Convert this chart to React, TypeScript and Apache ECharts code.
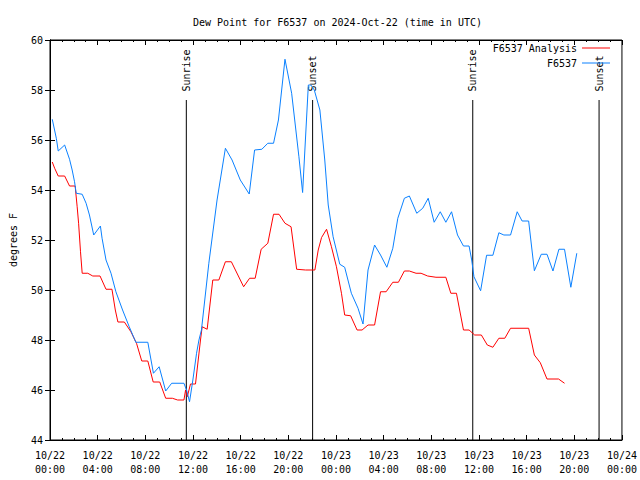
import React, { useEffect, useRef } from "react";
import * as echarts from "echarts";

// Hours since 2024-10-22 00:00 UTC
const analysisHours = [
  0.19, 0.39, 0.69, 1.23, 1.64, 2.11, 2.28, 2.4, 2.56, 2.7, 3.17, 3.59, 4.2, 4.7, 5.2, 5.48, 5.7, 6.24,
  6.79, 7.26, 7.7, 8.21, 8.66, 9.21, 9.71, 10.27, 10.71, 11.24, 11.38, 11.52, 11.79, 12.21, 12.63, 12.77,
  13.19, 13.66, 14.17, 14.72, 15.22, 16.25, 16.75, 17.22, 17.72, 18.28, 18.76, 19.22, 19.72, 20.23, 20.7,
  21.45, 22.23, 22.51, 22.79, 23.21, 23.62, 24.04, 24.46, 24.73, 25.23, 25.77, 26.19, 26.69, 27.24, 27.74,
  28.21, 28.77, 29.24, 29.74, 30.16, 30.72, 31.14, 31.69, 32.39, 33.22, 33.64, 34.11, 34.7, 35.17, 35.64,
  36.2, 36.7, 37.17, 37.67, 38.17, 38.65, 40.17, 40.65, 41.15, 41.71, 42.68, 43.18,
];
const analysisValues = [
  55.12, 54.87, 54.56, 54.56, 54.16, 54.16, 53.33, 52.67, 51.53, 50.67, 50.67, 50.56, 50.56, 50.03, 50.03,
  49.2, 48.72, 48.72, 48.33, 47.87, 47.16, 47.16, 46.32, 46.32, 45.67, 45.67, 45.6, 45.6, 46.0, 45.73, 46.24,
  46.24, 48.0, 48.53, 48.43, 50.4, 50.4, 51.13, 51.13, 50.13, 50.47, 50.47, 51.63, 51.87, 53.03, 53.03, 52.67,
  52.53, 50.83, 50.8, 50.8, 51.6, 52.1, 52.43, 51.73, 50.93, 49.87, 49.0, 48.97, 48.4, 48.4, 48.6, 48.6, 49.93,
  49.93, 50.31, 50.31, 50.76, 50.76, 50.67, 50.67, 50.56, 50.51, 50.51, 49.87, 49.87, 48.4, 48.4, 48.2, 48.2,
  47.8, 47.71, 48.07, 48.07, 48.47, 48.47, 47.4, 47.09, 46.44, 46.44, 46.27,
];

const obsHours = [
  0.19, 0.53, 0.69, 1.23, 1.64, 1.86, 2.06, 2.2, 2.7, 3.03, 3.31, 3.67, 4.23, 4.37, 4.7, 5.12, 5.53, 6.09,
  6.65, 7.2, 8.21, 8.68, 9.16, 9.71, 10.21, 11.24, 11.46, 11.71, 11.99, 12.3, 12.5, 12.71, 13.33, 14.02,
  14.72, 15.28, 15.97, 16.72, 17.17, 17.78, 18.28, 18.76, 19.17, 19.72, 20.28, 20.89, 21.2, 21.68, 21.89,
  22.18, 22.65, 23.06, 23.35, 23.76, 24.32, 24.73, 25.29, 25.85, 26.27, 26.69, 27.24, 27.74, 28.27, 28.77,
  29.19, 29.74, 30.16, 30.78, 31.28, 31.74, 32.24, 32.75, 33.22, 33.7, 34.2, 34.7, 35.17, 35.39, 35.58,
  36.14, 36.64, 37.17, 37.67, 38.09, 38.65, 39.21, 39.62, 40.17, 40.65, 41.23, 41.71, 42.21, 42.71, 43.18,
  43.71, 44.21,
];
const obsValues = [
  56.83, 56.07, 55.56, 55.8, 55.23, 54.8, 54.33, 53.87, 53.83, 53.47, 53.0, 52.2, 52.56, 52.07, 51.2, 50.67,
  49.93, 49.2, 48.53, 47.91, 47.91, 46.67, 46.93, 45.96, 46.27, 46.27, 46.0, 45.53, 46.4, 47.47, 48.0, 48.4,
  51.07, 53.6, 55.67, 55.2, 54.4, 53.84, 55.6, 55.63, 55.87, 55.87, 56.8, 59.23, 57.87, 55.33, 53.9, 58.2,
  58.2, 58.0, 57.2, 55.2, 53.4, 52.13, 51.03, 50.91, 49.87, 49.27, 48.64, 50.8, 51.8, 51.4, 50.91, 51.67,
  52.87, 53.67, 53.76, 53.07, 53.27, 53.67, 52.71, 53.13, 52.71, 53.13, 52.2, 51.76, 51.76, 51.2, 50.53,
  49.97, 51.39, 51.39, 52.29, 52.2, 52.2, 53.13, 52.76, 52.76, 50.77, 51.43, 51.43, 50.76, 51.63, 51.63,
  50.11, 51.47,
];

const eventNames = ["Sunrise", "Sunset", "Sunrise", "Sunset"];
const eventHours = [11.44, 22.04, 35.48, 46.08];
const eventTop = 57.6;

const dayLabels = ["10/22", "10/23", "10/24"];
const titleText = "Dew Point for F6537 on 2024-Oct-22 (time in UTC)";
const seriesNames = ["F6537 Analysis", "F6537"];
const seriesColors = ["#ff0000", "#0a80ff"];

const FONT = "DejaVu Sans Mono";

export default function App() {
  const ref = useRef<HTMLDivElement>(null);
  useEffect(() => {
    if (!ref.current) return;
    const chart = echarts.init(ref.current, null, { renderer: "svg" });
    const pad = (n: number) => (n < 10 ? "0" + n : "" + n);
    const xFmt = (v: number) => {
      const d = Math.floor(v / 24);
      const h = Math.round(v - d * 24);
      return `${dayLabels[d]}\n${pad(h)}:00`;
    };
    const txt = { fontFamily: FONT, fontSize: 10, color: "#000" };
    const eventSeries = eventHours.map((h, i) => ({
      type: "line",
      name: "ev" + i,
      silent: true,
      symbol: "circle",
      symbolSize: 1,
      showSymbol: true,
      itemStyle: { color: "rgba(0,0,0,0)", borderWidth: 0 },
      lineStyle: { color: "#000", width: 1 },
      data: [
        { value: [h, 44], label: { show: false } },
        {
          value: [h, eventTop],
          label: {
            show: true,
            formatter: eventNames[i],
            position: "top",
            rotate: 90,
            align: "left",
            verticalAlign: "middle",
            distance: 8,
            ...txt,
          },
        },
      ],
      z: 1,
    }));
    chart.setOption({
      animation: false,
      backgroundColor: "#fff",
      title: {
        text: titleText,
        left: 188,
        top: 12,
        textStyle: { ...txt, fontWeight: "normal" },
      },
      legend: {
        data: seriesNames.map((n) => ({ name: n, icon: "rect" })),
        orient: "vertical",
        right: 25,
        top: 37,
        align: "right",
        itemWidth: 28,
        itemHeight: 1,
        itemGap: 3,
        textStyle: { ...txt, lineHeight: 12 },
      },
      grid: {
        left: 46,
        right: 18,
        top: 40,
        bottom: 40,
        show: true,
        borderColor: "#000",
        borderWidth: 1,
        backgroundColor: "transparent",
      },
      xAxis: [
        {
          type: "value",
          min: 0,
          max: 48,
          interval: 4,
          axisLine: { show: true, lineStyle: { color: "#000", width: 1 } },
          axisTick: { show: true, inside: true, length: 5, lineStyle: { color: "#000" } },
          minorTick: { show: true, splitNumber: 4, length: 2, lineStyle: { color: "#000" } },
          splitLine: { show: false },
          axisLabel: { ...txt, margin: 8, lineHeight: 14, formatter: xFmt },
        },
        {
          type: "value",
          position: "top",
          min: 0,
          max: 48,
          interval: 4,
          axisLine: { show: true, lineStyle: { color: "#000", width: 1 } },
          axisTick: { show: true, inside: true, length: 5, lineStyle: { color: "#000" } },
          minorTick: { show: true, splitNumber: 4, length: 2, lineStyle: { color: "#000" } },
          splitLine: { show: false },
          axisLabel: { show: false },
        },
      ],
      yAxis: [
        {
          type: "value",
          min: 44,
          max: 60,
          interval: 2,
          name: "degrees F",
          nameLocation: "middle",
          nameGap: 32,
          nameRotate: 90,
          nameTextStyle: txt,
          axisLine: { show: true, lineStyle: { color: "#000", width: 1 } },
          axisTick: { show: true, inside: true, length: 5, lineStyle: { color: "#000" } },
          splitLine: { show: false },
          axisLabel: { ...txt, margin: 7 },
        },
        {
          type: "value",
          position: "right",
          min: 44,
          max: 60,
          interval: 2,
          axisLine: { show: true, lineStyle: { color: "#000", width: 1 } },
          axisTick: { show: true, inside: true, length: 5, lineStyle: { color: "#000" } },
          splitLine: { show: false },
          axisLabel: { show: false },
        },
      ],
      series: [
        ...eventSeries,
        {
          type: "line",
          name: seriesNames[0],
          symbol: "none",
          color: seriesColors[0],
          lineStyle: { color: seriesColors[0], width: 1 },
          data: analysisHours.map((h, i) => [h, analysisValues[i]]),
          z: 2,
        },
        {
          type: "line",
          name: seriesNames[1],
          symbol: "none",
          color: seriesColors[1],
          lineStyle: { color: seriesColors[1], width: 1 },
          data: obsHours.map((h, i) => [h, obsValues[i]]),
          z: 3,
        },
      ],
    });
    return () => chart.dispose();
  }, []);
  return <div ref={ref} style={{ width: 640, height: 480, position: "fixed", left: 0, top: 0 }} />;
}
